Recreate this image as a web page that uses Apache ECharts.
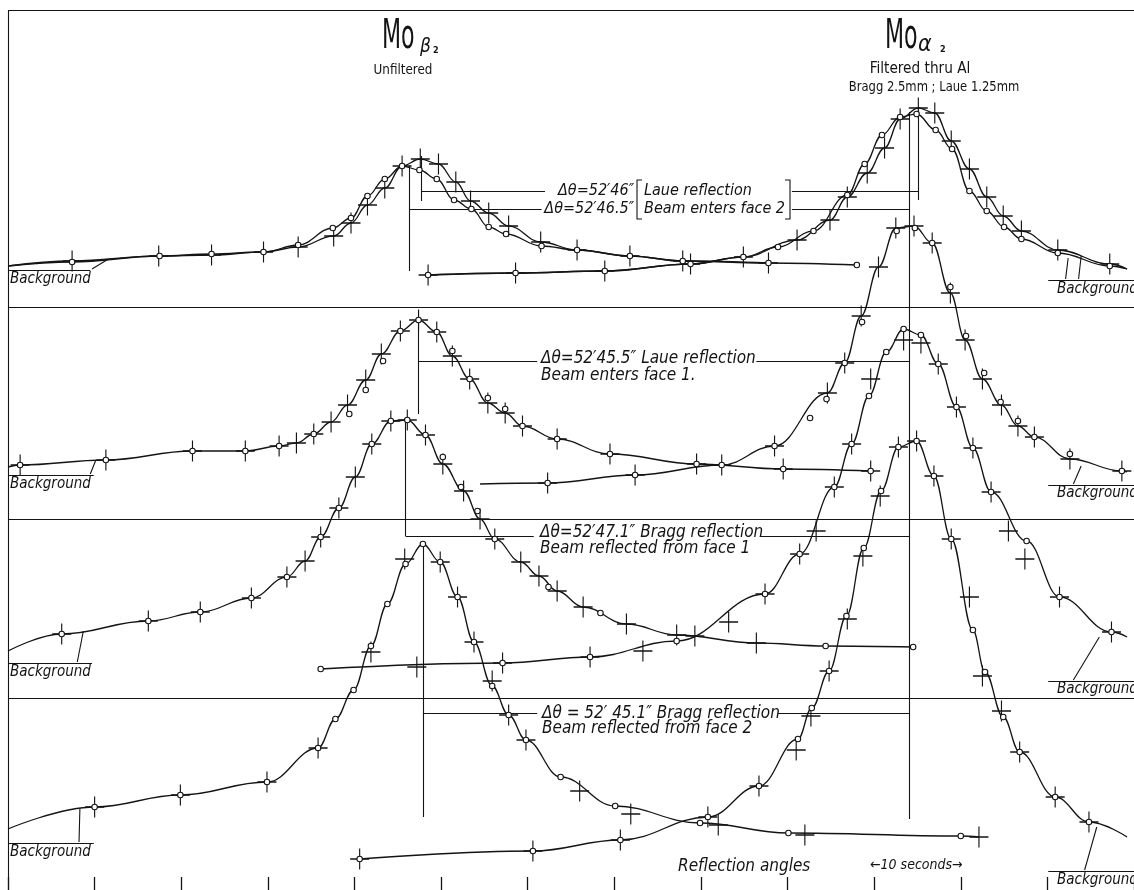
<!DOCTYPE html>
<html><head><meta charset="utf-8">
<script src="https://cdn.jsdelivr.net/npm/echarts@6/dist/echarts.min.js"></script>
<style>html,body{margin:0;padding:0;background:#fff;overflow:hidden}#c{width:1134px;height:890px}</style>
</head><body><div id="c"></div>
<script>
// x = reflection angle (seconds of arc), y = galvanometer deflection (arbitrary units, panels stacked)
const xTickStep = 10;
// ---- Panel 1: Laue reflection, beam enters face 2
const p1BetaStart = [-10, 62.4];
const p1BetaCircles = [[-2.6,62.8],[7.5,63.4],[13.5,63.6],[19.5,63.8],[23.5,64.5],[27.5,66.2],[29.6,67.2],[31.5,69.4],[33.5,71.1],[35.5,72.4],[37.5,72.0],[39.5,71.1],[41.5,69.0],[43.5,68.1],[45.5,66.3],[47.5,65.6],[51.6,64.4],[55.7,64.0],[61.8,63.4],[67.9,62.9],[77.8,62.7],[88.0,62.5]];
const p1BetaCrosses = [[-2.6,62.9],[7.4,63.4],[13.5,63.5],[19.5,63.8],[23.5,64.3],[27.6,65.4],[29.6,66.7],[31.5,68.5],[33.5,70.2],[35.5,72.4],[37.6,73.1],[39.7,72.6],[41.7,70.8],[43.4,68.9],[45.5,67.7],[47.8,66.4],[51.5,64.8],[55.7,64.0],[61.8,63.4],[67.9,62.9],[77.8,62.7]];
const p1AlphaCircles = [[38.5,61.5],[48.6,61.7],[58.9,61.9],[68.8,62.6],[74.9,63.3],[78.9,64.3],[83.0,65.9],[86.9,69.5],[88.9,72.6],[90.9,75.5],[93.0,77.3],[94.9,77.6],[97.1,76.0],[99.0,74.1],[101.0,69.9],[103.0,67.9],[105.0,66.3],[107.0,65.1],[111.2,63.7],[117.2,62.4]];
const p1AlphaCrosses = [[38.5,61.5],[48.6,61.7],[58.9,61.9],[68.8,62.6],[74.9,63.3],[81.1,65.0],[84.9,67.0],[86.9,69.3],[89.2,71.7],[91.2,74.2],[93.0,77.1],[95.1,78.2],[97.0,77.7],[98.9,74.9],[101.0,72.1],[103.0,69.3],[104.9,67.4],[107.0,65.9],[111.2,64.0],[117.2,62.6]];
const p1AlphaEnd = [119.2, 62.1];
// ---- Panel 2: Laue reflection, beam enters face 1
const p2BetaStart = [-10, 42.3];
const p2BetaCircles = [[-8.6,42.5],[1.3,43.0],[11.3,43.9],[17.4,43.9],[21.3,44.4],[25.3,45.6],[29.4,47.6],[31.3,50.0],[33.3,52.9],[35.3,55.9],[37.4,57.0],[39.5,55.8],[41.3,53.9],[43.3,51.1],[45.4,49.2],[47.4,48.1],[49.4,46.4],[53.4,45.1],[59.5,43.6],[69.5,42.6],[79.5,42.1],[89.6,41.9]];
const p2BetaCrosses = [[-8.6,42.5],[1.3,43.0],[11.3,43.9],[17.4,43.9],[21.3,44.4],[23.3,44.7],[25.3,45.6],[27.3,46.8],[29.2,48.5],[31.3,51.0],[33.1,53.6],[35.3,55.9],[37.4,57.0],[39.5,55.8],[41.3,53.4],[43.3,51.1],[45.4,48.7],[47.4,47.7],[49.4,46.4],[53.4,45.1],[59.5,43.6],[69.5,42.6],[79.5,42.1],[89.6,41.9]];
const p2AlphaStart = [44.5, 40.6];
const p2AlphaCircles = [[52.3,40.7],[62.4,41.5],[72.4,42.5],[78.5,44.4],[82.6,47.2],[84.5,49.1],[86.6,52.7],[88.6,56.8],[92.6,65.9],[94.7,66.2],[96.7,64.7],[98.8,60.3],[100.6,55.4],[102.7,51.7],[104.6,48.8],[106.6,46.9],[108.5,45.3],[112.6,43.6],[118.6,41.9]];
const p2AlphaCrosses = [[52.3,40.7],[62.4,41.5],[72.4,42.5],[78.5,44.4],[84.6,49.7],[86.6,52.7],[88.5,57.4],[90.5,62.3],[92.5,66.2],[94.6,66.4],[96.7,64.7],[98.8,59.7],[100.5,55.0],[102.5,51.1],[104.7,48.5],[106.6,46.4],[108.5,45.3],[112.6,43.1],[118.6,41.9]];
const p2AlphaEnd = [119.2, 41.8];
// ---- Panel 3: Bragg reflection, beam reflected from face 1
const p3BetaStart = [-10, 23.9];
const p3BetaCircles = [[-3.8,25.6],[6.2,26.9],[12.2,27.8],[18.1,29.2],[22.2,31.3],[26.1,35.3],[28.2,38.2],[32.0,44.6],[34.2,46.9],[36.1,47.0],[38.2,45.5],[40.2,43.3],[42.3,40.3],[44.2,37.9],[46.2,35.1],[52.4,30.3],[58.4,27.7],[84.4,24.4],[94.5,24.3]];
const p3BetaCrosses = [[-3.8,25.6],[6.2,26.9],[12.2,27.8],[18.1,29.2],[22.2,31.3],[24.3,32.9],[26.1,35.3],[28.2,38.2],[30.1,41.3],[32.0,44.6],[34.2,46.9],[36.1,47.0],[38.2,45.5],[40.2,42.6],[42.6,39.9],[44.5,37.1],[46.2,35.1],[49.2,32.8],[51.3,31.4],[53.4,29.9],[56.4,28.3],[61.4,26.6],[67.2,25.5],[76.4,24.7]];
const p3BetaTail = [[84.4,24.4],[94.5,24.3]];
const p3AlphaCircles = [[26.1,22.1],[47.1,22.7],[57.2,23.3],[67.2,24.9],[77.4,29.6],[81.4,33.6],[85.4,40.3],[87.4,44.6],[89.4,49.4],[91.4,53.8],[93.4,56.1],[95.4,55.5],[97.4,52.6],[99.5,48.3],[101.4,44.2],[103.5,39.8],[107.6,34.9],[111.4,29.3],[117.4,25.8]];
const p3AlphaCrosses = [[37.2,22.3],[47.1,22.7],[57.2,23.3],[63.3,23.9],[69.3,25.4],[73.2,26.8],[77.4,29.6],[81.4,33.6],[83.3,35.9],[85.4,40.3],[87.4,44.6],[89.6,51.1],[93.4,55.0],[95.4,54.7],[97.4,52.6],[99.5,48.3],[101.4,44.2],[103.5,39.8],[105.5,35.9],[107.4,33.1],[111.4,29.3],[117.4,25.8]];
const p3AlphaEnd = [119.2, 25.3];
// ---- Panel 4: Bragg reflection, beam reflected from face 2
const p4BetaStart = [-10, 6.1];
const p4BetaCircles = [[0.0,8.3],[9.9,9.5],[19.9,10.8],[25.8,14.2],[27.8,17.1],[29.9,20.0],[31.9,24.4],[33.8,28.6],[35.9,32.6],[37.9,34.6],[39.9,32.8],[41.9,29.3],[43.8,24.8],[45.9,20.4],[47.8,17.5],[49.8,15.0],[53.8,11.3],[60.1,8.4],[69.9,6.7],[80.1,5.7],[100.0,5.4]];
const p4BetaCrosses = [[0.0,8.3],[9.9,9.5],[19.9,10.8],[25.8,14.2],[31.9,23.8],[35.8,33.1],[39.9,32.8],[41.9,29.3],[43.8,24.8],[45.9,20.9],[47.8,17.5],[49.8,15.0],[56.0,9.9],[61.9,7.6],[72.0,6.5],[82.0,5.5],[102.1,5.3]];
const p4BetaEnd = [102.1, 5.3];
const p4AlphaCircles = [[30.6,3.1],[50.6,3.9],[60.7,5.0],[70.8,7.3],[76.7,10.4],[81.2,15.1],[82.8,18.2],[84.8,21.9],[86.8,27.4],[88.8,34.2],[90.8,39.9],[92.8,44.3],[94.9,44.9],[96.9,41.4],[98.9,35.1],[101.4,26.0],[102.8,21.8],[104.9,17.3],[106.8,13.8],[110.9,9.3],[114.8,6.8]];
const p4AlphaCrosses = [[30.6,3.1],[50.6,3.9],[60.7,5.0],[70.8,7.3],[76.7,10.4],[81.0,14.0],[82.7,17.4],[84.8,21.9],[86.9,27.1],[88.7,33.4],[90.7,39.4],[92.8,44.3],[94.9,44.9],[96.9,41.4],[98.9,35.1],[101.0,29.3],[102.5,21.4],[104.7,17.9],[106.8,13.8],[110.9,9.3],[114.8,6.8]];
const p4AlphaEnd = [119.2, 5.3];
// ---- annotation geometry (data units)
const xLeft = -10, xRight = 120;
const frameTop = 88.0;
const panelDividers = [58.3, 37.1, 19.2];
const peakRules = [[37.7,73.4,68.9],[95.1,78.2,69.0],[36.3,72.4,61.9],[94.1,77.8,7.1],[37.4,57.0,47.6],[35.9,47.1,35.4],[37.9,34.6,7.3]];
const deltaArrows = [[52.0,37.7,69.9],[80.5,95.1,69.9],[51.6,36.3,68.1],[80.5,94.1,68.1],[51.1,37.4,52.9],[76.4,94.1,52.9],[50.7,35.9,35.4],[76.8,94.1,35.4],[51.1,37.9,17.7],[78.9,94.1,17.7]];
const backgroundRules = [[-10,-0.5,62.0],[-10,-0.1,41.5],[-10,-0.3,22.7],[-10,-0.1,4.7],[110.1,120,61.0],[110.1,120,40.5],[110.1,120,20.9],[110.1,120,1.9]];
const backgroundArrows = [[1.6,63.1,-0.3,62.1],[0.1,42.9,-0.5,41.6],[-1.3,25.9,-2.0,22.8],[-1.7,8.1,-1.8,4.8],[112.4,63.2,112.1,61.1],[113.9,63.4,113.6,61.1],[113.9,42.4,113.0,40.6],[116.0,25.3,113.0,21.0],[115.7,6.3,114.3,2.0]];

const INK = '#141414';
const HAND = '"DejaVu Sans Condensed","DejaVu Sans",sans-serif';
const PLUS = 'path://M9.4,0h1.2v9.4h9.4v1.2h-9.4v9.4h-1.2v-9.4h-9.4v-1.2h9.4z';

function curve(data){return {type:'line',data:data,smooth:0.4,smoothMonotone:'x',symbol:'none',showSymbol:false,lineStyle:{color:INK,width:1.3},silent:true,z:2};}
function circles(data){return {type:'scatter',data:data,symbol:'circle',symbolSize:5.5,itemStyle:{color:'#fff',borderColor:INK,borderWidth:1.1,opacity:1},silent:true,z:5};}
function crosses(data){return {type:'scatter',data:data,symbol:PLUS,symbolSize:[19,21],symbolKeepAspect:false,itemStyle:{color:INK,opacity:1},silent:true,z:4};}
function rules(lines, arrow){return {type:'line',data:[],silent:true,z:3,markLine:{silent:true,animation:false,symbol:arrow?['none','arrow']:['none','none'],symbolSize:arrow?[0,9]:0,label:{show:false},emphasis:{disabled:true},lineStyle:{color:INK,width:1.1,type:'solid',opacity:1},data:lines}};}
function seg(x1,y1,x2,y2){return [{coord:[x1,y1]},{coord:[x2,y2]}];}

const frameLines = [seg(xLeft,frameTop,xRight,frameTop), seg(xLeft,frameTop,xLeft,0)]
  .concat(panelDividers.map(y=>seg(xLeft,y,xRight,y)))
  .concat(peakRules.map(r=>seg(r[0],r[1],r[0],r[2])))
  .concat(backgroundRules.map(r=>seg(r[0],r[2],r[1],r[2])));
const arrowLines = deltaArrows.map(a=>seg(a[0],a[2],a[1],a[2]))
  .concat(backgroundArrows.map(a=>seg(a[0],a[1],a[2],a[3])));

function txt(x,y,text,font,align,sx){return {type:'text',x:x,y:y,scaleX:sx||1,scaleY:1,silent:true,z:10,style:{text:text,fill:INK,font:font,align:align||'left',verticalAlign:'middle',textAlign:align||'left',textVerticalAlign:'middle'}};}
const it = s=>'italic '+s+'px '+HAND;
const graphics = [
  txt(382,37,'Mo','200 41px '+HAND,'left',0.6), txt(420,47,'β','italic 19px '+HAND), txt(433,51,'2','bold 9px '+HAND),
  txt(403,70,'Unfiltered','14px '+HAND,'center',0.95),
  txt(885,37,'Mo','200 41px '+HAND,'left',0.6), txt(918,45,'α','italic 23px '+HAND), txt(940,50,'2','bold 9px '+HAND),
  txt(920,69,'Filtered thru Al','16px '+HAND,'center',0.95),
  txt(934,87,'Bragg 2.5mm ; Laue 1.25mm','14px '+HAND,'center',0.92),
  txt(634,191,'Δθ=52′46″',it(16),'right'), txt(634,209,'Δθ=52′46.5″',it(16),'right'),
  txt(644,191,'Laue reflection',it(16)), txt(644,209,'Beam enters face 2',it(16)),
  txt(541,359,'Δθ=52′45.5″ Laue reflection',it(17)), txt(541,376,'Beam enters face 1.',it(17)),
  txt(540,533,'Δθ=52′47.1″ Bragg reflection',it(17)), txt(540,549,'Beam reflected from face 1',it(17)),
  txt(542,714,'Δθ = 52′ 45.1″ Bragg reflection',it(17)), txt(542,729,'Beam reflected from face 2',it(17)),
  txt(678,867,'Reflection angles',it(17)), txt(870,865,'←10 seconds→',it(14)),
  txt(10,279,'Background',it(15)), txt(10,484,'Background',it(15)), txt(10,672,'Background',it(15)), txt(10,852,'Background',it(15)),
  txt(1057,289,'Background',it(15)), txt(1057,493,'Background',it(15)), txt(1057,689,'Background',it(15)), txt(1057,880,'Background',it(15)),
  {type:'polyline',silent:true,z:10,shape:{points:[[642,180],[637,180],[637,219],[642,219]]},style:{stroke:INK,fill:null,lineWidth:1.1}},
  {type:'polyline',silent:true,z:10,shape:{points:[[785,180],[790,180],[790,219],[785,219]]},style:{stroke:INK,fill:null,lineWidth:1.1}}
];

const chart = echarts.init(document.getElementById('c'), null, {renderer:'canvas'});
chart.setOption({
  animation:false,
  backgroundColor:'#fff',
  grid:{left:8,right:-7,top:0,bottom:0,containLabel:false},
  xAxis:{type:'value',min:xLeft,max:xRight,interval:xTickStep,axisLine:{show:false},splitLine:{show:false},axisLabel:{show:false},
         axisTick:{show:true,inside:true,length:13,lineStyle:{color:INK,width:1.3}}},
  yAxis:{type:'value',min:0,max:89,show:false,splitLine:{show:false}},
  graphic:graphics,
  series:[
    rules(frameLines,false), rules(arrowLines,true),
    curve([p1BetaStart].concat(p1BetaCircles)), curve([p1BetaStart].concat(p1BetaCrosses)),
    curve(p1AlphaCircles.concat([p1AlphaEnd])), curve(p1AlphaCrosses.concat([p1AlphaEnd])),
    curve([p2BetaStart].concat(p2BetaCrosses)), curve([p2AlphaStart].concat(p2AlphaCrosses,[p2AlphaEnd])),
    curve([p3BetaStart].concat(p3BetaCrosses,p3BetaTail)), curve(p3AlphaCircles.concat([p3AlphaEnd])),
    curve([p4BetaStart].concat(p4BetaCircles,[p4BetaEnd])), curve(p4AlphaCircles.concat([p4AlphaEnd])),
    crosses(p1BetaCrosses), crosses(p1AlphaCrosses), crosses(p2BetaCrosses), crosses(p2AlphaCrosses),
    crosses(p3BetaCrosses), crosses(p3AlphaCrosses), crosses(p4BetaCrosses), crosses(p4AlphaCrosses),
    circles(p1BetaCircles), circles(p1AlphaCircles), circles(p2BetaCircles), circles(p2AlphaCircles),
    circles(p3BetaCircles), circles(p3AlphaCircles), circles(p4BetaCircles), circles(p4AlphaCircles)
  ]
});
</script></body></html>
